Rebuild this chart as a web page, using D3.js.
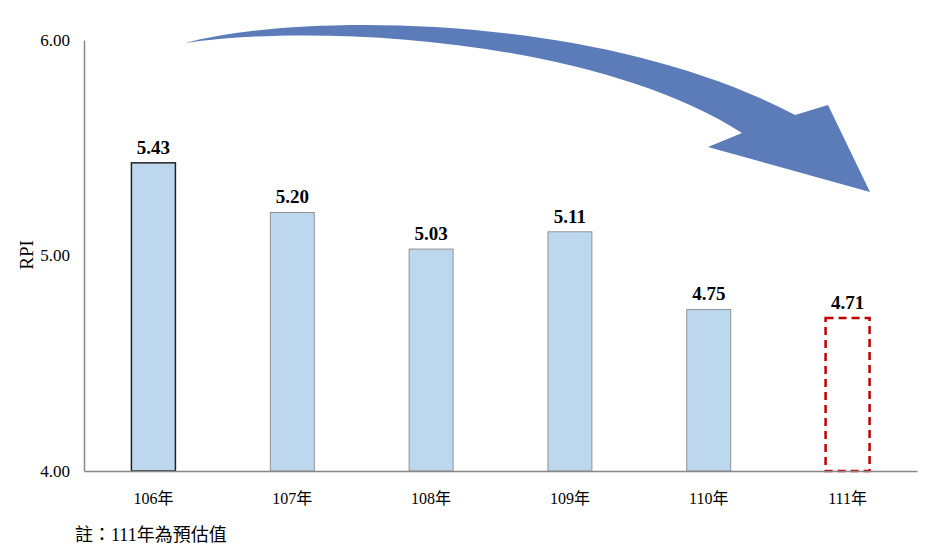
<!DOCTYPE html>
<html><head><meta charset="utf-8">
<script src="https://cdn.jsdelivr.net/npm/d3@7"></script>
<style>body{margin:0;background:#fff}svg{display:block}
svg text{font-family:"Liberation Serif","Times New Roman","Noto Sans CJK TC",serif;}
</style>
</head><body>
<svg id="c" width="944" height="555"></svg>
<script>
const categories = ["106年","107年","108年","109年","110年","111年"];
const values = [5.43, 5.20, 5.03, 5.11, 4.75, 4.71];
const labels = ["5.43","5.20","5.03","5.11","4.75","4.71"];
const yTicks = [4, 5, 6];
const estimated = [false,false,false,false,false,true];

const svg = d3.select("#c");
const x = d3.scaleBand().domain(categories).range([84,917]).paddingInner(0.683).paddingOuter(0.3415);
const y = d3.scaleLinear().domain([4,6]).range([471,40]);

// arrow (decorative)
svg.append("path")
  .attr("d","M185,43 C300,12 600,12 795,115 L828,105 L870,192 L708,147 L742,133 C600,42 330,22 185,43 Z")
  .attr("fill","#5b7cb9");

// bars
svg.selectAll("rect.bar").data(categories).enter().append("rect")
  .attr("x", d=>x(d)).attr("width", x.bandwidth())
  .attr("y", (d,i)=>y(values[i])).attr("height",(d,i)=>y(4)-y(values[i]))
  .attr("fill",(d,i)=>estimated[i]?"none":"#bdd7ee")
  .attr("stroke",(d,i)=>estimated[i]?"#c00000":(i===0?"#222":"#7f7f7f"))
  .attr("stroke-width",(d,i)=>estimated[i]?2.5:(i===0?1.5:0.8))
  .attr("stroke-dasharray",(d,i)=>estimated[i]?"8,5":null);

// value labels
svg.selectAll("text.val").data(categories).enter().append("text")
  .attr("x", d=>x(d)+x.bandwidth()/2).attr("y",(d,i)=>y(values[i])-9)
  .attr("text-anchor","middle").style("font-weight","bold")
  .style("font-size","19px").attr("fill","#000").text((d,i)=>labels[i]);

// y axis
const yAxis = d3.axisLeft(y).tickValues(yTicks).tickFormat(d3.format(".2f")).tickSize(0).tickPadding(14);
const gy = svg.append("g").attr("transform","translate(84,0)").call(yAxis);
gy.attr("font-family",null);
gy.select(".domain").attr("stroke","#888").attr("stroke-width",1.5);
gy.selectAll("text").style("font-size","17px").attr("fill","#000");

// x axis
const xAxis = d3.axisBottom(x).tickSize(0).tickPadding(22);
const gx = svg.append("g").attr("transform","translate(0,471)").call(xAxis);
gx.attr("font-family",null);
gx.select(".domain").attr("stroke","#888").attr("stroke-width",1.5);
gx.selectAll("text").style("font-size","16px").attr("fill","#000");

// y title
svg.append("text").attr("transform","translate(33,255) rotate(-90)")
  .attr("text-anchor","middle").style("font-size","19px").text("RPI");

// note
svg.append("text").attr("x",75).attr("y",541).style("font-size","18px").text("註：111年為預估值");
</script>
</body></html>
